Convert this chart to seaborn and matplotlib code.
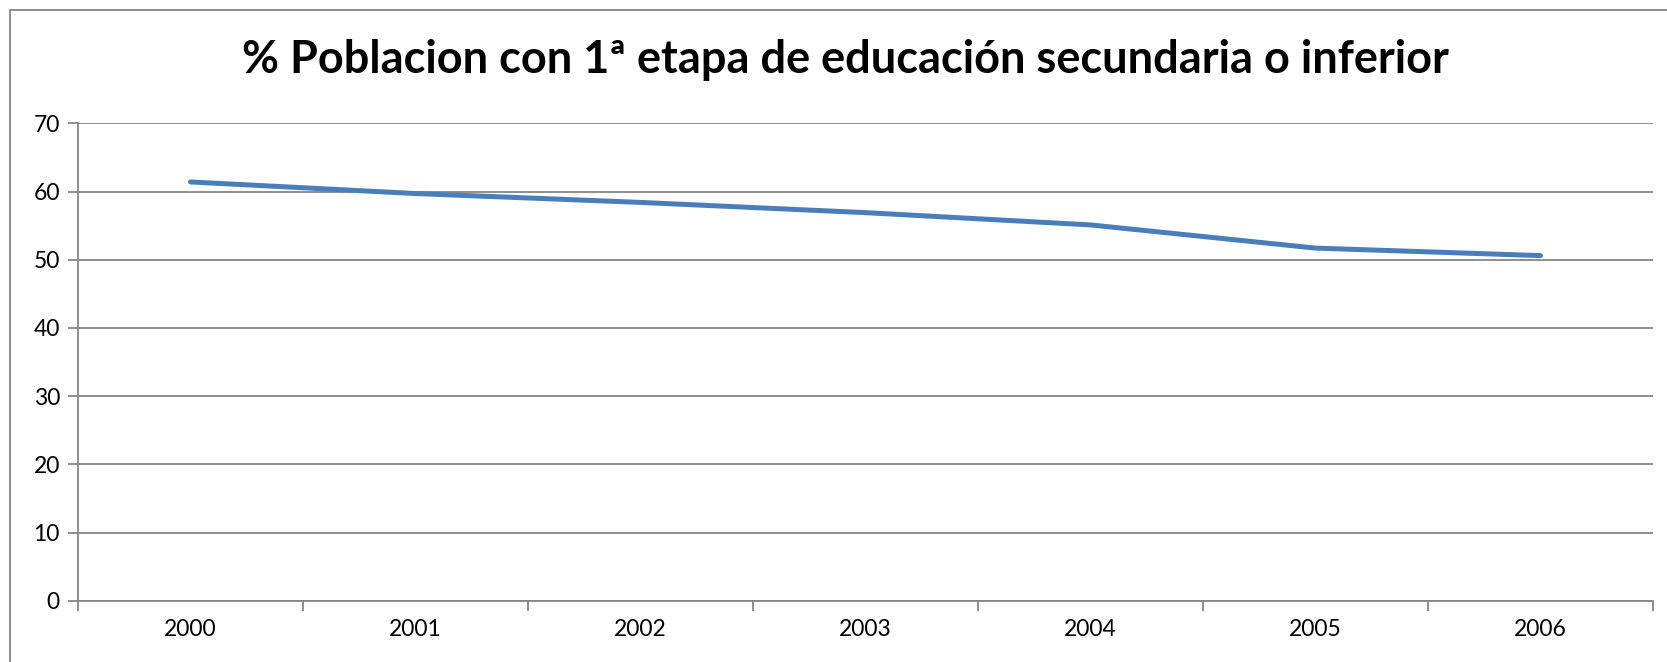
import matplotlib
matplotlib.use("Agg")
import matplotlib.pyplot as plt
from matplotlib.patches import Rectangle
from matplotlib.ticker import FixedLocator
import pandas as pd
import seaborn as sns

# data
years = ["2000", "2001", "2002", "2003", "2004", "2005", "2006"]
pct = [61.4, 59.7, 58.4, 56.9, 55.1, 51.7, 50.6]
y_ticks = [0, 10, 20, 30, 40, 50, 60, 70]
title = "% Poblacion con 1ª etapa de educación secundaria o inferior"

sns.set_theme(style="white")
plt.rcParams["font.family"] = ["Lato", "DejaVu Sans"]

grey = "#868686"
df = pd.DataFrame({"year": years, "pct": pct})

fig = plt.figure(figsize=(16.67, 6.62), dpi=100)
ax = fig.add_axes([78 / 1667, 1 - 600.7 / 662, (1653 - 78) / 1667, (600.7 - 123.3) / 662])

sns.lineplot(data=df, x="year", y="pct", ax=ax, color="#4A7EBB", linewidth=3.6,
             solid_capstyle="round", sort=False)

ax.set_xlim(-0.5, len(years) - 0.5)
ax.set_ylim(0, 70)
ax.set_yticks(y_ticks)
ax.yaxis.grid(True, color=grey, linewidth=1.3)
ax.xaxis.grid(False)
ax.set_xlabel("")
ax.set_ylabel("")

# tick marks between categories, labels centred on them
ax.xaxis.set_minor_locator(FixedLocator([i - 0.5 for i in range(len(years) + 1)]))
ax.tick_params(axis="x", which="major", length=0, pad=13, labelsize=16.5, labelcolor="black")
ax.tick_params(axis="x", which="minor", length=7, width=1.3, color=grey, direction="out", bottom=True)
ax.tick_params(axis="y", length=7, width=1.3, color=grey, direction="out", left=True,
               pad=6, labelsize=16.5, labelcolor="black")

for side in ["top", "right"]:
    ax.spines[side].set_visible(False)
for side in ["left", "bottom"]:
    ax.spines[side].set_color(grey)
    ax.spines[side].set_linewidth(1.3)

fig.text(0.507, 1 - 60 / 662, title, ha="center", va="center",
         fontsize=32.5, fontweight="bold", color="black")

# chart border
fig.patches.append(Rectangle((10 / 1667, -0.01), 1.02, 1 - 10 / 662 + 0.01,
                             transform=fig.transFigure, fill=False,
                             edgecolor=grey, linewidth=1.3))

fig.savefig("out.png", dpi=100)
